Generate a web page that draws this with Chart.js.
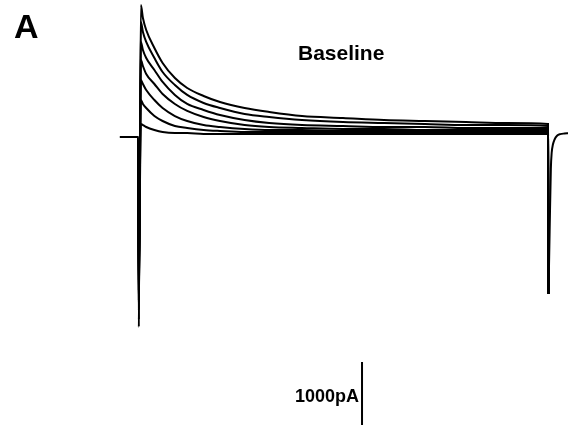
<!DOCTYPE html>
<html>
<head>
<meta charset="utf-8">
<script src="https://cdn.jsdelivr.net/npm/chart.js@4.4.1/dist/chart.umd.min.js"></script>
<style>
  html, body { margin: 0; padding: 0; background: #fff; }
  #wrap { width: 568px; height: 436px; }
</style>
</head>
<body>
<div id="wrap"><canvas id="c" width="568" height="436"></canvas></div>
<script>
// Sample times (ms) for the voltage step; step on at 0 ms, off at 500 ms
const stepTimes = [-22, 0, 1, 3.5, 6, 10, 20, 30, 45, 60, 80, 100, 130, 160, 200, 250, 300, 350, 400, 450, 500, 500.6];

// Whole-cell currents (pA), one sweep per step level
const sweep1 = [0, 0, -3015, 2095, 1888, 1698, 1412, 1175, 936, 778, 651, 555, 460, 397, 333, 302, 270, 254, 238, 222, 206, -2490];
const sweep2 = [0, 0, -2900, 1825, 1666, 1508, 1254, 1032, 825, 667, 540, 460, 365, 317, 270, 238, 222, 206, 190, 190, 175, -2490];
const sweep3 = [0, 0, -2750, 1508, 1381, 1254, 1063, 873, 667, 524, 429, 349, 270, 222, 190, 175, 159, 159, 143, 143, 143, -2490];
const sweep4 = [0, 0, -2590, 1222, 1127, 1000, 841, 682, 524, 413, 317, 254, 190, 159, 143, 127, 127, 111, 111, 111, 111, -2490];
const sweep5 = [0, 0, -2430, 905, 841, 746, 587, 460, 333, 254, 190, 159, 127, 111, 111, 95, 95, 95, 95, 95, 95, -2490];
const sweep6 = [0, 0, -2270, 587, 524, 460, 333, 254, 175, 143, 111, 95, 79, 79, 79, 79, 79, 79, 79, 79, 79, -2490];
const sweep7 = [0, 0, -2110, 206, 190, 159, 111, 79, 63, 63, 48, 48, 48, 48, 48, 48, 48, 48, 48, 48, 48, -2490];

// Tail current after the step returns to holding potential
const tailTimes = [500.6, 502, 503.5, 504.5, 506, 508, 511, 515, 520, 525];
const tailCurrent = [-2490, -1500, -500, -250, -120, -40, 20, 45, 55, 60];

// Calibration bar
const scaleBarTime = 273.2;
const scaleBarTop = -3571;
const scaleBarPa = 1000;

const sweeps = [sweep1, sweep2, sweep3, sweep4, sweep5, sweep6, sweep7];

function toPoints(xs, ys) {
  return xs.map((x, i) => ({ x: x, y: ys[i] }));
}

const traceStyle = {
  borderColor: '#000',
  borderWidth: 2,
  pointRadius: 0,
  fill: false,
  cubicInterpolationMode: 'monotone'
};

const datasets = sweeps.map((s, i) => Object.assign({
  label: 'Sweep ' + (i + 1),
  data: toPoints(stepTimes, s)
}, traceStyle));

datasets.push(Object.assign({
  label: 'Tail',
  data: toPoints(tailTimes, tailCurrent)
}, traceStyle));

datasets.push({
  label: 'Scale',
  data: [{ x: scaleBarTime, y: scaleBarTop }, { x: scaleBarTime, y: scaleBarTop - scaleBarPa }],
  borderColor: '#000',
  borderWidth: 2,
  pointRadius: 0,
  fill: false
});

const annotations = {
  id: 'annotations',
  afterDraw(chart) {
    const ctx = chart.ctx;
    const xs = chart.scales.x, ys = chart.scales.y;
    ctx.save();
    ctx.fillStyle = '#000';
    ctx.textBaseline = 'alphabetic';

    ctx.font = 'bold 34px "Liberation Sans", Arial, sans-serif';
    ctx.textAlign = 'left';
    ctx.fillText('A', 14, 38);

    ctx.font = 'bold 21px "Liberation Sans", Arial, sans-serif';
    ctx.fillText('Baseline', 298, 60);

    const barX = xs.getPixelForValue(scaleBarTime);
    const barMid = ys.getPixelForValue(scaleBarTop - scaleBarPa / 2);
    ctx.font = 'bold 18px "Liberation Sans", Arial, sans-serif';
    ctx.textAlign = 'right';
    ctx.fillText(scaleBarPa + 'pA', barX - 3, barMid + 8);
    ctx.restore();
  }
};

new Chart(document.getElementById('c'), {
  type: 'line',
  data: { datasets: datasets },
  options: {
    responsive: false,
    devicePixelRatio: 1,
    animation: false,
    layout: { padding: 0 },
    plugins: { legend: { display: false }, tooltip: { enabled: false } },
    scales: {
      x: { type: 'linear', min: -168.3, max: 524.4, display: false },
      y: { type: 'linear', min: -4745, max: 2174, display: false }
    }
  },
  plugins: [annotations]
});
</script>
</body>
</html>
